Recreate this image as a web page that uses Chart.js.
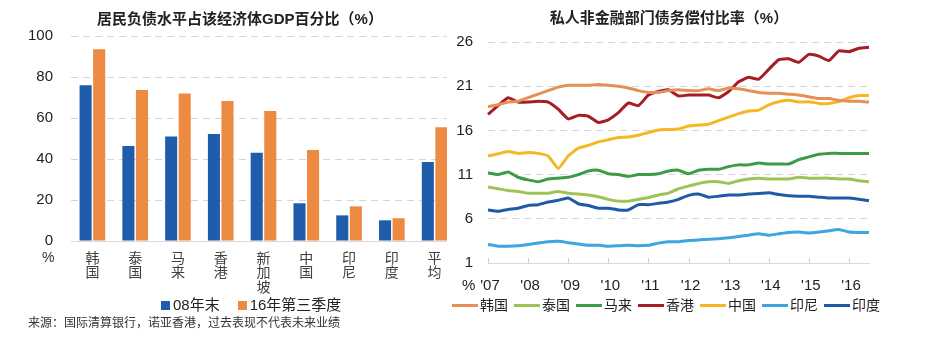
<!DOCTYPE html>
<html><head><meta charset="utf-8">
<script src="https://cdn.jsdelivr.net/npm/chart.js@4.4.1/dist/chart.umd.min.js"></script>
<style>
html,body{margin:0;padding:0;background:#fff;}
body{width:926px;height:357px;position:relative;overflow:hidden;font-family:'Liberation Sans','Noto Sans CJK SC',sans-serif;color:#222;}
.abs{position:absolute;white-space:nowrap;}
#leftWrap{position:absolute;left:0;top:0;width:447px;height:357px;overflow:hidden;}
#rightWrap{position:absolute;left:447px;top:0;width:479px;height:357px;}
.title{font-size:15px;font-weight:bold;line-height:15px;text-align:center;width:400px;color:#222;}
.lg{display:flex;align-items:center;}
.lg .it{display:flex;align-items:center;}
</style></head>
<body>
<div id="leftWrap"><canvas id="c1" width="456" height="357"></canvas></div>
<div id="rightWrap"><canvas id="c2" width="479" height="357"></canvas></div>
<div class="abs title" style="left:40px;top:11px;">居民负债水平占该经济体GDP百分比（%）</div>
<div class="abs title" style="left:469px;top:10px;">私人非金融部门债务偿付比率（%）</div>
<div class="abs" style="left:42px;top:250px;font-size:14px;line-height:15px;color:#333;">%</div>
<div class="abs" style="left:462px;top:277px;font-size:15px;line-height:16px;color:#222;">%</div>
<div class="abs lg" id="leg1" style="left:161px;top:297px;font-size:15px;line-height:16px;color:#222;"></div>
<div class="abs lg" id="leg2" style="left:452px;top:297px;font-size:14px;line-height:16px;color:#222;"></div>
<div class="abs" style="left:28px;top:316px;font-size:12px;line-height:14px;color:#333;">来源：国际清算银行，诺亚香港，过去表现不代表未来业绩</div>
<script>
// ---------- Left chart data ----------
const countries = [['韩','国'],['泰','国'],['马','来'],['香','港'],['新','加','坡'],['中','国'],['印','尼'],['印','度'],['平','均']];
const debt08 = [76, 46.3, 51, 52.2, 43, 18.4, 12.5, 10.1, 38.5];
const debt16Q3 = [93.5, 73.7, 72, 68.3, 63.4, 44.4, 16.9, 11.1, 55.5];
const leftTicks = [0, 20, 40, 60, 80, 100];

// ---------- Right chart data ----------
const quarters = ['2007Q1','2007Q2','2007Q3','2007Q4','2008Q1','2008Q2','2008Q3','2008Q4','2009Q1','2009Q2','2009Q3','2009Q4',
 '2010Q1','2010Q2','2010Q3','2010Q4','2011Q1','2011Q2','2011Q3','2011Q4','2012Q1','2012Q2','2012Q3','2012Q4',
 '2013Q1','2013Q2','2013Q3','2013Q4','2014Q1','2014Q2','2014Q3','2014Q4','2015Q1','2015Q2','2015Q3','2015Q4',
 '2016Q1','2016Q2','2016Q3'];
const yearTicks = ["'07","'08","'09","'10","'11","'12","'13","'14","'15","'16"];
const korea = [18.7,18.9,19.2,19.3,19.7,20.1,20.5,20.9,21.1,21.1,21.1,21.2,21.1,21.0,20.8,20.5,20.3,20.3,20.5,20.6,20.5,20.5,20.7,20.5,20.8,20.7,20.5,20.3,20.2,20.2,20.1,20.0,19.8,19.6,19.6,19.4,19.3,19.3,19.2];
const thailand = [9.6,9.4,9.2,9.1,8.9,8.9,8.9,9.1,8.9,8.8,8.7,8.5,8.2,8.0,8.0,8.2,8.4,8.7,8.9,9.4,9.7,10.0,10.2,10.2,10.0,10.3,10.5,10.6,10.5,10.5,10.5,10.7,10.6,10.6,10.6,10.5,10.5,10.3,10.2];
const malaysia = [11.2,11.0,11.3,10.7,10.4,10.2,10.5,10.6,10.7,11.0,11.4,11.5,11.1,11.0,10.8,11.0,11.0,11.1,11.4,11.5,11.1,11.5,11.6,11.6,11.9,12.1,12.1,12.3,12.2,12.2,12.2,12.7,13.0,13.3,13.4,13.4,13.4,13.4,13.4];
const hongkong = [17.8,18.8,19.7,19.2,19.2,19.3,19.2,18.4,17.3,17.7,17.6,16.9,17.2,18.0,19.1,18.8,20.0,20.4,20.6,19.9,20.0,20.0,20.0,19.7,20.4,21.5,22.0,21.8,22.9,24.0,24.1,23.7,24.6,24.4,23.9,25.0,24.9,25.3,25.4];
const china = [13.1,13.35,13.6,13.4,13.5,13.4,13.1,11.7,13.1,14.0,14.3,14.7,14.95,15.2,15.25,15.45,15.75,16.05,16.1,16.15,16.5,16.6,16.7,17.1,17.5,17.9,18.2,18.3,18.9,19.25,19.4,19.2,19.25,19.05,19.05,19.25,19.7,19.95,19.95];
const indonesia = [3.1,2.9,2.9,2.95,3.1,3.25,3.4,3.45,3.3,3.15,3.0,3.0,2.9,2.95,3.0,2.95,3.0,3.25,3.4,3.4,3.55,3.6,3.7,3.75,3.85,4.0,4.15,4.3,4.15,4.3,4.45,4.5,4.4,4.5,4.65,4.8,4.5,4.45,4.45];
const india = [7.0,6.85,7.05,7.2,7.5,7.6,7.9,8.1,8.35,7.7,7.5,7.2,7.2,7.0,7.0,7.6,7.6,7.75,7.9,8.2,8.65,8.8,8.45,8.55,8.7,8.7,8.8,8.85,8.95,8.75,8.6,8.55,8.55,8.45,8.35,8.35,8.35,8.2,8.05];

const NUM_FONT = "'Liberation Sans', Arial, sans-serif";
const CJK_FONT = "'Noto Sans CJK SC', sans-serif";
const GRID = '#d6d6d6';

// ---------- Left chart ----------
const c1 = new Chart(document.getElementById('c1'), {
  type: 'bar',
  data: {
    labels: countries,
    datasets: [
      {label: '08年末', data: debt08, backgroundColor: '#1F5CAB', barPercentage: 0.89, categoryPercentage: 0.634},
      {label: '16年第三季度', data: debt16Q3, backgroundColor: '#EC8A41', barPercentage: 0.89, categoryPercentage: 0.634}
    ]
  },
  options: {
    responsive: false, animation: false, devicePixelRatio: 1,
    layout: {padding: {top: 36, bottom: 56, left: 0, right: 0}},
    plugins: {legend: {display: false}, title: {display: false}, tooltip: {enabled: false}},
    scales: {
      x: {
        grid: {display: false, drawTicks: false},
        border: {display: true, color: '#d9d9d9', width: 1},
        ticks: {font: {family: CJK_FONT, size: 14, lineHeight: 1.05}, color: '#404040', padding: 9, maxRotation: 0, autoSkip: false},
        afterFit: s => { s.height = 60; }
      },
      y: {
        min: 0, max: 100,
        afterBuildTicks: s => { s.ticks = leftTicks.map(v => ({value: v})); },
        grid: {color: c => (c.tick && c.tick.value === 0) ? 'rgba(0,0,0,0)' : GRID, drawTicks: false, lineWidth: 1},
        border: {display: false, dash: [7, 5]},
        ticks: {font: {family: NUM_FONT, size: 15}, color: '#222', padding: 18},
        afterFit: s => { s.width = 71; }
      }
    }
  }
});

// ---------- Right chart ----------
const tickMarks = {
  id: 'tickMarks',
  afterDatasetsDraw(chart) {
    const xs = chart.scales.x, ctx = chart.ctx, b = chart.chartArea.bottom;
    ctx.save();
    ctx.strokeStyle = '#cfcfcf'; ctx.lineWidth = 1;
    yearTicks.forEach((t, k) => {
      const px = Math.round(xs.getPixelForValue(k * 4)) + 0.5;
      ctx.beginPath(); ctx.moveTo(px, b - 5); ctx.lineTo(px, b); ctx.stroke();
    });
    ctx.restore();
  }
};
const seriesDefs = [
  ['韩国', korea, '#E68F56'],
  ['泰国', thailand, '#9DC356'],
  ['马来', malaysia, '#3C9B44'],
  ['香港', hongkong, '#A61E24'],
  ['中国', china, '#F4B825'],
  ['印尼', indonesia, '#3DA5DF'],
  ['印度', india, '#1F5AA8']
];
const c2 = new Chart(document.getElementById('c2'), {
  type: 'line',
  data: {
    labels: quarters,
    datasets: seriesDefs.map(([n, d, col]) => ({label: n, data: d, borderColor: col, backgroundColor: col, borderWidth: 3, pointRadius: 0, tension: 0.15, fill: false}))
  },
  options: {
    responsive: false, animation: false, devicePixelRatio: 1,
    layout: {padding: {top: 42, bottom: 54, left: 0, right: 57}},
    plugins: {legend: {display: false}, title: {display: false}, tooltip: {enabled: false}},
    scales: {
      x: {
        offset: false,
        grid: {display: false, drawTicks: false},
        border: {display: true, color: '#d9d9d9', width: 1},
        ticks: {font: {family: NUM_FONT, size: 15}, color: '#222', padding: 14, labelOffset: 2, maxRotation: 0, autoSkip: false,
          callback: (v, i) => (i % 4 === 0 ? yearTicks[i / 4] : '')},
        afterFit: s => { s.height = 40; }
      },
      y: {
        min: 1, max: 26,
        ticks: {stepSize: 5, font: {family: NUM_FONT, size: 15}, color: '#222', padding: 15},
        grid: {color: c => (c.tick && c.tick.value === 1) ? 'rgba(0,0,0,0)' : GRID, drawTicks: false},
        border: {display: false, dash: [7, 5]},
        afterFit: s => { s.width = 41; }
      }
    }
  },
  plugins: [tickMarks]
});

// ---------- HTML legends built from the datasets ----------
const leg1 = document.getElementById('leg1');
c1.data.datasets.forEach((ds, i) => {
  const it = document.createElement('span'); it.className = 'it';
  if (i > 0) it.style.marginLeft = '18px';
  it.innerHTML = '<span style="display:inline-block;width:9px;height:9px;margin-right:3px;background:' + ds.backgroundColor + '"></span><span>' + ds.label + '</span>';
  leg1.appendChild(it);
});
const leg2 = document.getElementById('leg2');
c2.data.datasets.forEach((ds) => {
  const it = document.createElement('span'); it.className = 'it'; it.style.width = '62px';
  it.innerHTML = '<span style="display:inline-block;width:26px;height:3px;margin-right:2px;background:' + ds.borderColor + '"></span><span>' + ds.label + '</span>';
  leg2.appendChild(it);
});
</script>
</body></html>
